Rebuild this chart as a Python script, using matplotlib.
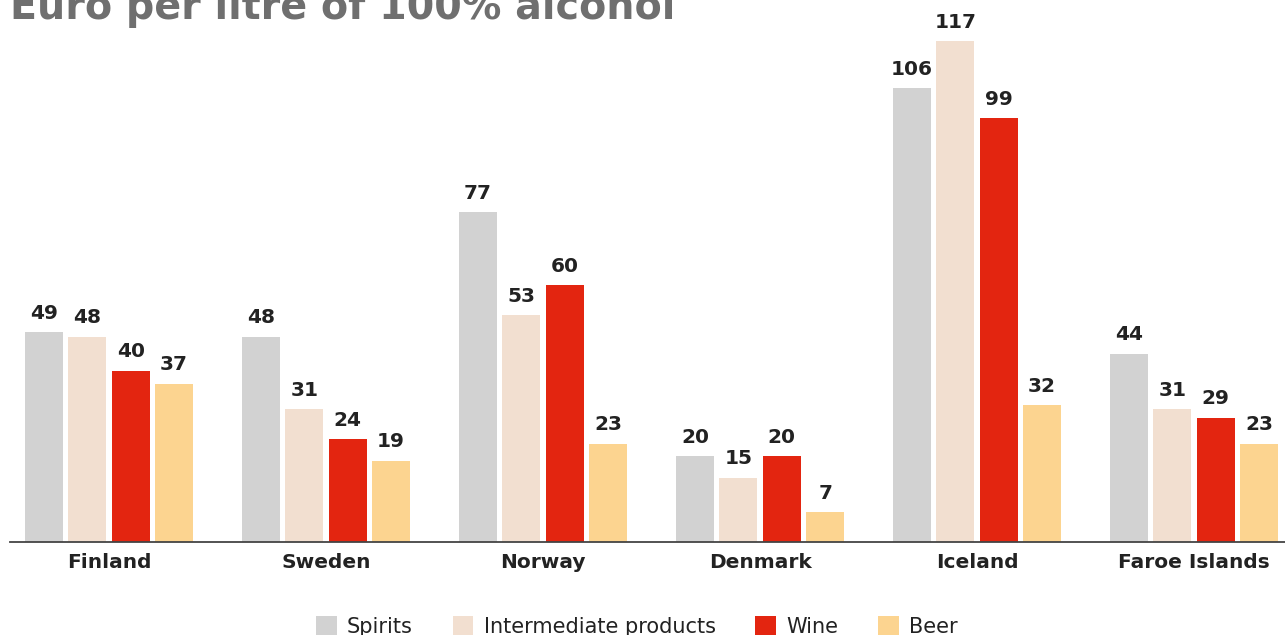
import numpy as np
import matplotlib.pyplot as plt

countries = ["Finland", "Sweden", "Norway", "Denmark", "Iceland", "Faroe Islands"]
series = ["Spirits", "Intermediate products", "Wine", "Beer"]
spirits = [49, 48, 77, 20, 106, 44]
intermediate = [48, 31, 53, 15, 117, 31]
wine = [40, 24, 60, 20, 99, 29]
beer = [37, 19, 23, 7, 32, 23]

colors = ["#d2d2d2", "#f2dfd0", "#e32510", "#fcd490"]
TEXT = "#222222"

fig = plt.figure(figsize=(12.85, 6.35), dpi=100)
# axes spans from the top edge down to the baseline at y=542px
ax = fig.add_axes([10 / 1285, 1 - 542 / 635, 1 - 10 / 1285, 542 / 635])

x = np.arange(len(countries))
step, width = 0.2, 0.175
for k, vals in enumerate([spirits, intermediate, wine, beer]):
    pos = x + (k - 1.5) * step
    ax.bar(pos, vals, width=width, color=colors[k], label=series[k])
    for xp, v in zip(pos, vals):
        ax.text(xp, v + 2.2, str(v), ha="center", va="bottom",
                fontsize=14.5, fontweight="bold", color=TEXT)

ax.set_xlim(-0.456, 5.419)
ax.set_ylim(0, 126.6)
for s in ["top", "right", "left"]:
    ax.spines[s].set_visible(False)
ax.spines["bottom"].set_color("#444444")
ax.spines["bottom"].set_linewidth(1.3)
ax.set_yticks([])
ax.set_xticks(x)
ax.set_xticklabels(countries, fontsize=14.5, fontweight="bold", color=TEXT)
ax.tick_params(axis="x", length=0, pad=8)

# title sits partly above the canvas, as in the source image
fig.text(10 / 1285, 1 - 19 / 635, "Euro per litre of 100% alcohol",
         fontsize=28.5, fontweight="bold", color="#6f6f6f",
         ha="left", va="baseline")

fig.legend(loc="upper center", bbox_to_anchor=(637 / 1285, 1 - 608 / 635),
           ncol=4, frameon=False, fontsize=15, handlelength=1.0,
           handleheight=1.0, handletextpad=0.5, columnspacing=1.9,
           labelcolor=TEXT, borderaxespad=0)

fig.savefig("out.png", dpi=100)
